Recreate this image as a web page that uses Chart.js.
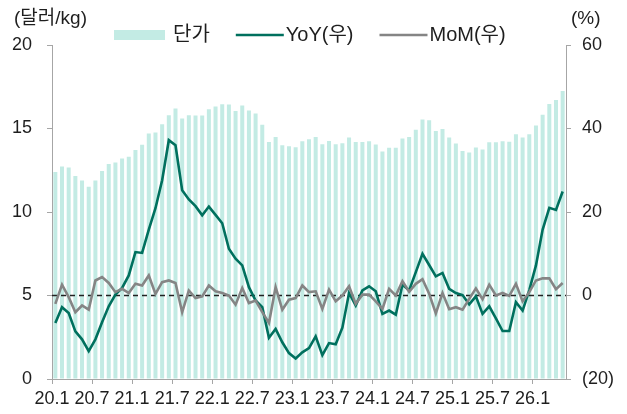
<!DOCTYPE html>
<html>
<head>
<meta charset="utf-8">
<script src="https://cdn.jsdelivr.net/npm/chart.js@4.4.1/dist/chart.umd.min.js"></script>
<style>
  html, body { margin: 0; padding: 0; background: #fff; }
  #chart { display: block; }
</style>
</head>
<body>
<canvas id="chart" width="627" height="414"></canvas>
<script>
// monthly categories, 2020.1 ~ 2026.5
var months = [
  '20.1','20.2','20.3','20.4','20.5','20.6','20.7','20.8','20.9','20.10','20.11','20.12',
  '21.1','21.2','21.3','21.4','21.5','21.6','21.7','21.8','21.9','21.10','21.11','21.12',
  '22.1','22.2','22.3','22.4','22.5','22.6','22.7','22.8','22.9','22.10','22.11','22.12',
  '23.1','23.2','23.3','23.4','23.5','23.6','23.7','23.8','23.9','23.10','23.11','23.12',
  '24.1','24.2','24.3','24.4','24.5','24.6','24.7','24.8','24.9','24.10','24.11','24.12',
  '25.1','25.2','25.3','25.4','25.5','25.6','25.7','25.8','25.9','25.10','25.11','25.12',
  '26.1','26.2','26.3','26.4','26.5'
];

// unit price (달러/kg), left axis
var price = [
  12.39,12.73,12.66,12.15,11.89,11.51,11.89,12.45,12.87,12.97,13.21,13.31,
  13.71,14.03,14.70,14.76,15.25,15.80,16.20,15.60,15.80,15.78,15.78,16.16,
  16.32,16.45,16.44,16.05,16.38,16.08,15.90,15.22,14.19,14.49,13.99,13.93,
  13.87,14.23,14.35,14.49,14.05,14.25,14.05,14.11,14.46,14.19,14.19,14.23,
  14.04,13.63,13.85,13.85,14.40,14.49,14.93,15.54,15.50,14.85,14.97,14.46,
  14.10,13.65,13.57,13.86,13.75,14.17,14.17,14.23,14.21,14.65,14.46,14.65,
  15.18,15.82,16.46,16.70,17.24
];

// YoY (%), right axis
var yoy = [
  -6.6,-2.8,-4.2,-8.6,-10.5,-13.3,-10.5,-6.4,-2.6,0.2,1.8,4.8,
  10.4,10.2,15.8,20.9,27.6,37.2,36.0,25.2,23.0,21.4,19.2,21.3,
  19.3,17.3,11.2,8.8,7.2,2.0,-1.2,-2.8,-10.1,-8.0,-11.2,-13.8,
  -15.1,-13.6,-12.6,-9.8,-14.3,-11.4,-11.7,-7.7,0.6,-2.4,1.2,2.2,
  1.0,-4.4,-3.6,-4.6,2.6,1.2,5.6,10.0,7.3,4.6,5.4,1.6,
  0.6,0.1,-2.1,-0.2,-4.4,-2.6,-5.5,-8.5,-8.5,-1.6,-3.6,1.3,
  7.2,15.8,21.0,20.5,24.9
];

// MoM (%), right axis
var mom = [
  -2.0,2.6,-0.4,-4.0,-2.4,-3.4,3.6,4.4,3.0,0.8,1.6,0.6,
  2.8,2.4,4.8,0.4,3.2,3.6,3.0,-4.0,1.2,-0.6,-0.2,2.4,
  1.0,0.6,0.0,-2.2,1.8,-1.8,-1.2,-4.0,-6.6,2.0,-3.4,-1.0,
  -0.6,2.4,0.8,1.0,-3.2,1.4,-1.4,0.0,2.2,-2.0,0.2,0.2,
  -1.4,-3.2,1.6,0.0,3.4,0.9,2.8,3.9,0.4,-4.3,0.6,-3.3,
  -2.8,-3.4,-0.8,1.7,-0.9,2.6,0.0,0.6,-0.1,2.8,-1.4,0.8,
  3.6,4.1,4.1,1.5,3.0
];

var TEAL = '#c3ebe4';
var GREEN = '#00705e';
var GREY = '#858585';
var AXIS = '#a6a6a6';
var TEXT = '#1e1e1e';
var FONT = '"Liberation Sans", "Noto Sans CJK KR", sans-serif';

// months sit between ticks: month i spans [i, i+1]
function xy(arr) {
  return arr.map(function (v, i) { return { x: i + 0.5, y: v }; });
}

var legendItems = [
  { text: '단가', kind: 'box', color: TEAL },
  { text: 'YoY(우)', kind: 'line', color: GREEN },
  { text: 'MoM(우)', kind: 'line', color: GREY }
];

// unit titles, legend, and month labels under the x ticks
// (drawn here so the first label can hang past the left axis)
var titlesAndLegend = {
  id: 'titlesAndLegend',
  afterDraw: function (chart) {
    var c = chart.ctx;
    c.save();
    c.fillStyle = TEXT;
    c.textBaseline = 'middle';
    c.font = '19px ' + FONT;
    c.textAlign = 'left';
    c.fillText('(달러/kg)', 14, 19);
    c.fillText('(%)', 571, 19);

    c.font = '20px ' + FONT;
    var x = 114, y = 35;
    legendItems.forEach(function (it) {
      if (it.kind === 'box') {
        c.fillStyle = it.color;
        c.fillRect(x, y - 5, 51, 10);
        x += 59;
      } else {
        c.strokeStyle = it.color;
        c.lineWidth = 2.5;
        c.beginPath();
        c.moveTo(x, y);
        c.lineTo(x + 48, y);
        c.stroke();
        x += 50;
      }
      c.fillStyle = TEXT;
      c.fillText(it.text, x, y);
      x += c.measureText(it.text).width + 26;
    });

    var xs = chart.scales.x;
    c.font = '18px ' + FONT;
    c.textAlign = 'center';
    c.fillStyle = TEXT;
    xs.ticks.forEach(function (t) {
      c.fillText(months[t.value], xs.getPixelForValue(t.value), xs.bottom - 15);
    });
    c.restore();
  }
};

new Chart(document.getElementById('chart'), {
  data: {
    datasets: [
      {
        type: 'line', label: 'MoM(우)', data: xy(mom), yAxisID: 'y1',
        borderColor: GREY, borderWidth: 2.6, pointRadius: 0, tension: 0, order: 1
      },
      {
        type: 'line', label: 'YoY(우)', data: xy(yoy), yAxisID: 'y1',
        borderColor: GREEN, borderWidth: 2.6, pointRadius: 0, tension: 0, order: 2
      },
      {
        type: 'line', label: 'zero', data: [{ x: 0, y: 0 }, { x: months.length, y: 0 }], yAxisID: 'y1',
        borderColor: '#222', borderWidth: 1.3, borderDash: [5, 4], pointRadius: 0, order: 3
      },
      {
        type: 'bar', label: '단가', data: xy(price), yAxisID: 'y',
        backgroundColor: TEAL, categoryPercentage: 1, barPercentage: 0.6, order: 4
      }
    ]
  },
  options: {
    responsive: false,
    animation: false,
    devicePixelRatio: 1,
    layout: { padding: { top: 45, left: 0, right: 0, bottom: 0 } },
    plugins: { legend: { display: false }, tooltip: { enabled: false } },
    scales: {
      x: {
        type: 'linear', min: 0, max: months.length, offset: false,
        ticks: { display: false, stepSize: 6, includeBounds: false, autoSkip: false },
        grid: { offset: false, drawOnChartArea: false, tickLength: 5, color: AXIS },
        border: { color: AXIS },
        afterFit: function (s) { s.height = 35; }
      },
      y: {
        position: 'left', min: 0, max: 20,
        ticks: { stepSize: 5, color: TEXT, font: { family: FONT, size: 18 }, padding: 15 },
        grid: { drawOnChartArea: false, tickLength: 5, color: AXIS },
        border: { color: AXIS },
        afterFit: function (s) { s.width = 52; }
      },
      y1: {
        position: 'right', min: -20, max: 60,
        ticks: {
          stepSize: 20, color: TEXT, font: { family: FONT, size: 18 }, padding: 11,
          callback: function (v) { return v < 0 ? '(' + (-v) + ')' : v; }
        },
        grid: { drawOnChartArea: false, tickLength: 5, color: AXIS },
        border: { color: AXIS },
        afterFit: function (s) { s.width = 61; }
      }
    }
  },
  plugins: [titlesAndLegend]
});
</script>
</body>
</html>
